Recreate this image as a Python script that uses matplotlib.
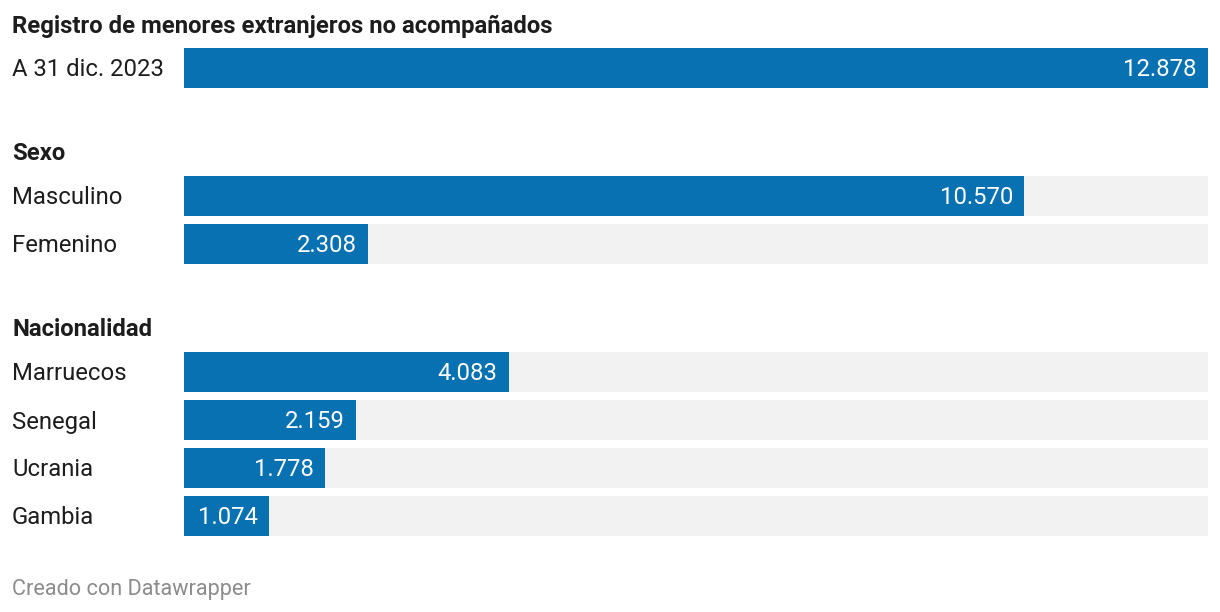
import matplotlib.pyplot as plt
from matplotlib.transforms import blended_transform_factory

plt.rcParams['font.family'] = ['Roboto', 'DejaVu Sans']

# data
sections = ['Registro de menores extranjeros no acompañados', 'Sexo', 'Nacionalidad']
section_y = [24, 152, 328]
labels = ['A 31 dic. 2023', 'Masculino', 'Femenino', 'Marruecos', 'Senegal', 'Ucrania', 'Gambia']
values = [12878, 10570, 2308, 4083, 2159, 1778, 1074]
row_y = [68, 196, 244, 372, 420, 468, 516]
show_bg = [False, True, True, True, True, True, True]

blue = '#0771b2'
grey = '#f2f2f2'
ink = '#1d1d1d'

W, H = 1220, 612
fig = plt.figure(figsize=(W / 100, H / 100), dpi=100)
ax = fig.add_axes([184 / W, 0, 1024 / W, 1])
vmax = max(values)
ax.set_xlim(0, vmax)
ax.set_ylim(H, 0)
ax.axis('off')

def fmt(v):
    return f'{v:,}'.replace(',', '.')

lab_tr = blended_transform_factory(fig.transFigure, ax.transData)
dy = 2  # text sits a touch lower than the bar centre

for lab, v, y, bg in zip(labels, values, row_y, show_bg):
    if bg:
        ax.barh(y, vmax, height=40, color=grey, linewidth=0)
    ax.barh(y, v, height=40, color=blue, linewidth=0)
    ax.annotate(fmt(v), (v, y + dy), xytext=(-8, 0), textcoords='offset points',
                ha='right', va='center', color='white', fontsize=17.2)
    ax.text(12 / W, y + dy, lab, transform=lab_tr, ha='left', va='center',
            color=ink, fontsize=17.2)

for s, y in zip(sections, section_y):
    ax.text(12 / W, y + dy, s, transform=lab_tr, ha='left', va='center',
            color=ink, fontsize=17.2, fontweight='bold')

fig.text(12 / W, 1 - 589 / H, 'Creado con Datawrapper', ha='left', va='center',
         color='#8c8c8c', fontsize=15.6)

fig.savefig('out.png', dpi=100)
